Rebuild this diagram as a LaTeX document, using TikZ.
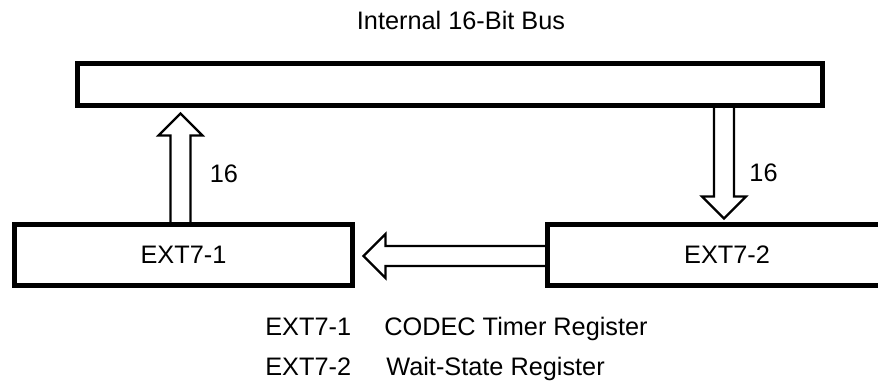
\documentclass[tikz,border=0pt]{standalone}
\usepackage{fontspec}
\setmainfont{Liberation Sans}
\usetikzlibrary{calc,positioning}
\tikzset{
	regbox/.style={draw, line width=0.1cm, inner sep=0pt},
	fatbus/.style={line width=0.045cm, line join=miter},
	plain/.style={inner sep=0pt}
}

\begin{document}
\begin{tikzpicture}[x=0.02cm, y=-0.02cm, font=\fontsize{14.4pt}{17pt}\selectfont]
			%%%%% START %%%%%
			\useasboundingbox (0, 0) rectangle (878, 381);
			
			\node[regbox, minimum width=14.9cm, minimum height=0.84cm] (bus) at (450, 84.5) {};
			\node[plain] (busname) at ($(bus.north)+(11, -40.5)$) {Internal 16-Bit Bus};
			
			\node[regbox, minimum width=6.76cm, minimum height=1.22cm] (ext1) at (183.5, 255) {EXT7-1};
			\node[regbox, minimum width=7.18cm, minimum height=1.22cm] (ext2) at (727, 255) {EXT7-2};
			
			\coordinate (upfoot) at ($(ext1.north)+(-3, 0)$);
			\coordinate (uptip) at ($(bus.south -| upfoot)+(0, 5.5)$);
			\draw[fatbus] ($(upfoot)+(-10, 0)$) -- ($(uptip)+(-10, 22)$) -- ++(-12, 0) -- (uptip) -- ($(uptip)+(22, 22)$) -- ++(-12, 0) -- ($(upfoot)+(10, 0)$);
			\node[plain] (upwidth) at ($(uptip)+(43.5, 60)$) {16};
			
			\coordinate (dntip) at ($(ext2.north)+(-3, -3.5)$);
			\coordinate (dnfoot) at (bus.south -| dntip);
			\draw[fatbus] ($(dnfoot)+(-10, 0)$) -- ($(dntip)+(-10, -22)$) -- ++(-12, 0) -- (dntip) -- ($(dntip)+(22, -22)$) -- ++(-12, 0) -- ($(dnfoot)+(10, 0)$);
			\node[plain] (dnwidth) at ($(dntip)+(39.5, -46)$) {16};
			
			\coordinate (lftip) at ($(ext1.east)+(8.5, 1)$);
			\coordinate (lffoot) at (ext2.west |- lftip);
			\draw[fatbus] ($(lffoot)+(0, -10)$) -- ($(lftip)+(22, -10)$) -- ++(0, -12) -- (lftip) -- ($(lftip)+(22, 22)$) -- ++(0, -12) -- ($(lffoot)+(0, 10)$);
			
			\node[plain, anchor=base west] (key1) at (265, 335) {EXT7-1};
			\node[plain, anchor=base west] (name1) at (384, 335) {CODEC Timer Register};
			\node[plain, anchor=base west] (key2) at (265, 375) {EXT7-2};
			\node[plain, anchor=base west] (name2) at (386, 375) {Wait-State Register};
			
			%%%%% END %%%%%
		\end{tikzpicture}
\end{document}
